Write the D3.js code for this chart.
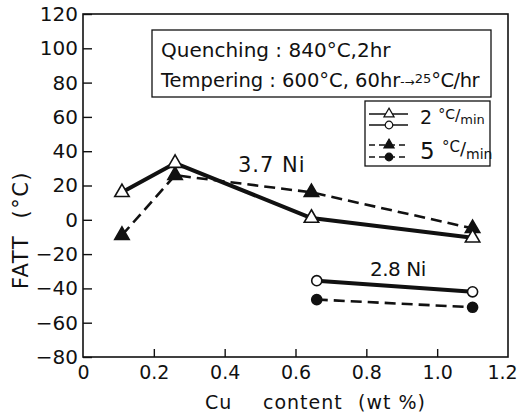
<!DOCTYPE html>
<html>
<head>
<meta charset="utf-8">
<script src="https://cdn.jsdelivr.net/npm/d3@7"></script>
<style>
body { margin: 0; background: #fff; }
text { font-family: "DejaVu Sans", "Liberation Sans", Arial, sans-serif; fill: #111; }
</style>
</head>
<body>
<svg width="520" height="416"></svg>
<script>
// values
var cu37 = [0.11, 0.26, 0.645, 1.1];
var ni37slow = [16, 33, 1, -10.5];     // 2 C/min, open triangles
var ni37fast = [-9, 26, 16, -5];        // 5 C/min, filled triangles
var cu28 = [0.66, 1.1];
var ni28slow = [-35.5, -42];            // 2 C/min, open circles
var ni28fast = [-46.5, -51];            // 5 C/min, filled circles
var xTicks = [0, 0.2, 0.4, 0.6, 0.8, 1.0, 1.2];
var yTicks = [-80, -60, -40, -20, 0, 20, 40, 60, 80, 100, 120];

var svg = d3.select("svg");
var margin = { top: 14, right: 12, bottom: 59, left: 83 };
var width = +svg.attr("width") - margin.left - margin.right;
var height = +svg.attr("height") - margin.top - margin.bottom;
var g = svg.append("g").attr("transform", "translate(" + margin.left + ", " + margin.top + ")");

var x = d3.scaleLinear().domain([0, 1.2]).range([0, width]);
var y = d3.scaleLinear().domain([-80, 120]).range([height, 0]);

// frame
g.append("rect").attr("width", width).attr("height", height)
    .attr("fill", "none").attr("stroke", "#111").attr("stroke-width", 1.6);

var xAxis = g.append("g").attr("transform", "translate(0, " + height + ")")
    .call(d3.axisBottom(x).tickValues(xTicks).tickSizeInner(-8).tickSizeOuter(0).tickPadding(9)
        .tickFormat(function (d) { return d === 0 ? "0" : d3.format(".1f")(d); }));
xAxis.select(".domain").remove();
xAxis.selectAll(".tick line").attr("stroke", "#111").attr("stroke-width", 1.4);
xAxis.selectAll(".tick text").attr("font-size", 19);
xAxis.selectAll(".tick").filter(function (d) { return d === 0 || d === 1.2; }).select("line").remove();
xAxis.selectAll(".tick").filter(function (d) { return d === 1.2; }).select("text").attr("dx", -6);

var yAxis = g.append("g")
    .call(d3.axisLeft(y).tickValues(yTicks).tickSizeInner(-9).tickSizeOuter(0));
yAxis.select(".domain").remove();
yAxis.selectAll(".tick line").attr("stroke", "#111").attr("stroke-width", 1.4);
yAxis.selectAll(".tick text").attr("font-size", 20).attr("x", -5);

// axis titles
svg.append("text").attr("transform", "translate(28, 230) rotate(-90)")
    .attr("text-anchor", "middle").attr("font-size", 21).attr("letter-spacing", 1.5)
    .style("white-space", "pre").text("FATT  (°C)");
[["Cu", 205], ["content", 263], ["(wt %)", 358]].forEach(function (p) {
    svg.append("text").attr("x", p[1]).attr("y", 409).attr("font-size", 19)
        .attr("letter-spacing", 1).text(p[0]);
});

var line = d3.line().x(function (d) { return x(d[0]); }).y(function (d) { return y(d[1]); });
function pairs(xs, ys) { return xs.map(function (v, i) { return [v, ys[i]]; }); }

function drawSeries(data, dashed, marker, filled) {
    g.append("path").datum(data).attr("fill", "none").attr("stroke", "#111")
        .attr("stroke-width", dashed ? 2.6 : 4)
        .attr("stroke-dasharray", dashed ? "11,6" : null)
        .attr("stroke-linejoin", "round").attr("d", line);
    var sym = d3.symbol().type(marker === "tri" ? d3.symbolTriangle : d3.symbolCircle)
        .size(marker === "tri" ? 90 : 80);
    g.selectAll(null).data(data).enter().append("path")
        .attr("transform", function (d) { return "translate(" + x(d[0]) + "," + y(d[1]) + ")"; })
        .attr("d", sym)
        .attr("fill", filled ? "#111" : "#fff").attr("stroke", "#111").attr("stroke-width", 1.6);
}

drawSeries(pairs(cu37, ni37fast), true, "tri", true);
drawSeries(pairs(cu37, ni37slow), false, "tri", false);
drawSeries(pairs(cu28, ni28fast), true, "circ", true);
drawSeries(pairs(cu28, ni28slow), false, "circ", false);

// series labels
svg.append("text").attr("x", 238).attr("y", 172).attr("font-size", 21).attr("letter-spacing", 1).text("3.7 Ni");
svg.append("text").attr("x", 370).attr("y", 276).attr("font-size", 20).attr("letter-spacing", -0.5).text("2.8 Ni");

// condition box
svg.append("rect").attr("x", 152).attr("y", 30).attr("width", 339).attr("height", 67)
    .attr("fill", "#fff").attr("stroke", "#111").attr("stroke-width", 1.3);
svg.append("text").attr("x", 161).attr("y", 57).attr("font-size", 20).text("Quenching : 840°C,2hr");
var t2 = svg.append("text").attr("x", 161).attr("y", 87).attr("font-size", 19.5);
t2.append("tspan").text("Tempering : 600°C, 60hr");
t2.append("tspan").attr("font-size", 12).attr("dy", -1).text("-→");
t2.append("tspan").attr("font-size", 13).attr("dy", -3).text("25");
t2.append("tspan").attr("font-size", 19.5).attr("dy", 4).attr("letter-spacing", -0.5).text("°C/hr");

// legend
var lg = svg.append("g").attr("transform", "translate(365, 101)");
lg.append("rect").attr("width", 125).attr("height", 65)
    .attr("fill", "#fff").attr("stroke", "#111").attr("stroke-width", 1.3);
var legRows = [
    { y: 13, dashed: false, marker: "tri", filled: false },
    { y: 24, dashed: false, marker: "circ", filled: false },
    { y: 44, dashed: true, marker: "tri", filled: true },
    { y: 56, dashed: true, marker: "circ", filled: true }
];
legRows.forEach(function (r) {
    lg.append("line").attr("x1", 4).attr("x2", 43).attr("y1", r.y).attr("y2", r.y)
        .attr("stroke", "#111").attr("stroke-width", 1.3)
        .attr("stroke-dasharray", r.dashed ? "6,4" : null);
    lg.append("path").attr("transform", "translate(24," + r.y + ")")
        .attr("d", d3.symbol().type(r.marker === "tri" ? d3.symbolTriangle : d3.symbolCircle).size(45))
        .attr("fill", r.filled ? "#111" : "#fff").attr("stroke", "#111").attr("stroke-width", 1.2);
});
var l1 = lg.append("text").attr("x", 55).attr("y", 23).attr("font-size", 19);
l1.append("tspan").text("2 ");
l1.append("tspan").attr("font-size", 14).attr("dy", -5).text("°C");
l1.append("tspan").attr("font-size", 16).attr("dy", 2).text("/");
l1.append("tspan").attr("font-size", 13).attr("dy", 3).text("min");
var l2 = lg.append("text").attr("x", 55).attr("y", 58).attr("font-size", 23);
l2.append("tspan").text("5 ");
l2.append("tspan").attr("font-size", 15).attr("dy", -7).text("°C");
l2.append("tspan").attr("font-size", 18).attr("dy", 3).text("/");
l2.append("tspan").attr("font-size", 14).attr("dy", 4).text("min");
</script>
</body>
</html>
